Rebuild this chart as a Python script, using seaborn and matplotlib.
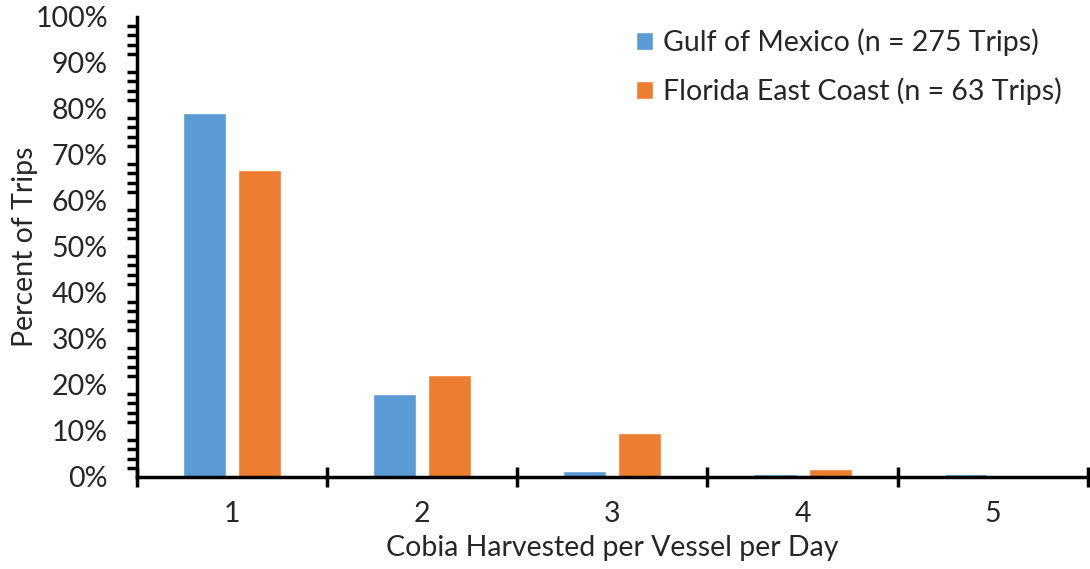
import pandas as pd
import numpy as np
import matplotlib.pyplot as plt
import seaborn as sns
from matplotlib.ticker import MultipleLocator, PercentFormatter

# Chart data (percent of trips)
categories = ['1', '2', '3', '4', '5']
gulf_pct = [79.2, 18.1, 1.2, 0.7, 0.7]
east_pct = [66.7, 22.2, 9.5, 1.7, 0.0]
series_names = ['Gulf of Mexico (n = 275 Trips)', 'Florida East Coast (n = 63 Trips)']
colors = ['#5B9BD5', '#ED7D31']

df = pd.DataFrame({
    'count': categories * 2,
    'pct': gulf_pct + east_pct,
    'region': [series_names[0]] * 5 + [series_names[1]] * 5,
})

sns.set_style('white')
plt.rcParams['font.family'] = ['Lato', 'DejaVu Sans']
fs = 20.5

fig = plt.figure(figsize=(10.9, 5.69), dpi=100)
ax = fig.add_axes([0.1257, 0.1617, 0.8723, 0.8085])

sns.barplot(data=df, x='count', y='pct', hue='region', palette=colors,
            width=0.58, gap=0.22, saturation=1, ax=ax)

ax.set_xlim(-0.5, 4.5)
ax.set_ylim(0, 100)

# y axis: crossing major ticks, outside minor ticks
ax.yaxis.set_major_locator(MultipleLocator(10))
ax.yaxis.set_minor_locator(MultipleLocator(2))
ax.yaxis.set_major_formatter(PercentFormatter(decimals=0))
ax.tick_params(axis='y', which='major', direction='inout', length=14, width=2.5,
               labelsize=fs, pad=14, color='black')
ax.tick_params(axis='y', which='minor', direction='out', length=7, width=2.5,
               left=True, color='black')

# x axis: labels centered, ticks at category boundaries
ax.set_xticks(np.arange(len(categories)))
ax.set_xticklabels(categories)
ax.set_xticks(np.arange(-0.5, len(categories)), minor=True)
ax.tick_params(axis='x', which='major', length=0, labelsize=fs, pad=17)
ax.tick_params(axis='x', which='minor', direction='inout', length=14, width=2.5,
               bottom=True, color='black')

for side in ['top', 'right']:
    ax.spines[side].set_visible(False)
for side in ['left', 'bottom']:
    ax.spines[side].set_color('black')
    ax.spines[side].set_linewidth(2.5)

ax.set_xlabel('Cobia Harvested per Vessel per Day', fontsize=fs, labelpad=6)
ax.set_ylabel('Percent of Trips', fontsize=fs)
ax.yaxis.set_label_coords(-0.104, 0.5)

leg = ax.legend(loc='upper right', bbox_to_anchor=(1.0, 1.03), frameon=False,
                fontsize=fs, handlelength=0.6, handleheight=0.6,
                handletextpad=0.35, labelspacing=0.75)

fig.savefig('out.png', dpi=100)
